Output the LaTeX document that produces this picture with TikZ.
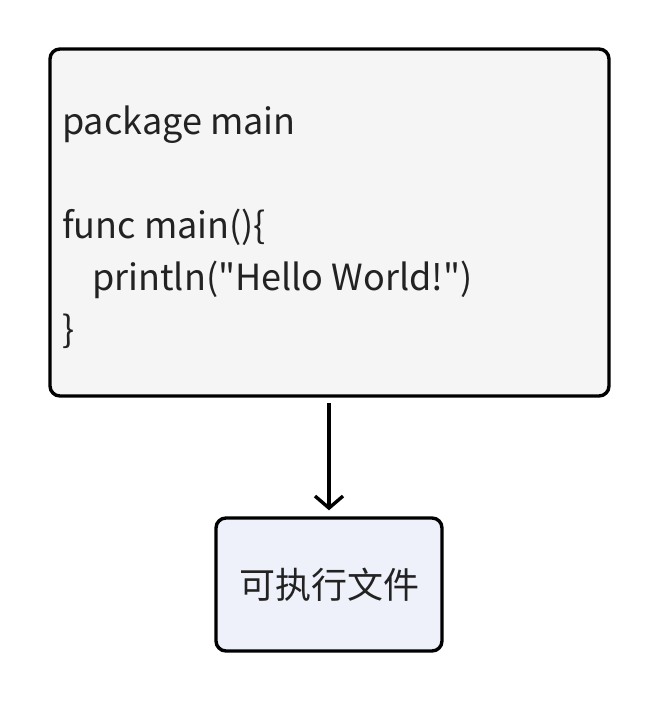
\documentclass[tikz,border=0pt]{standalone}
\usepackage{fontspec}
\newfontfamily\notofont{Noto Sans CJK SC}
\usetikzlibrary{arrows.meta}
\definecolor{codefill}{HTML}{F5F5F5}
\definecolor{exefill}{HTML}{EEF1FA}
\definecolor{ink}{HTML}{222222}
\tikzset{
  box/.style={draw=black, line width=3.4pt, rounded corners=10pt},
  flow/.style={draw=black, line width=3.4pt, -{Straight Barb[length=12pt,width=28pt,line width=3.4pt]}},
}
\begin{document}
\begin{tikzpicture}[x=1pt,y=1pt]
\useasboundingbox[fill=white] (0,0) rectangle (660,702);
\path[box, fill=codefill] (50,653) rectangle (609,306);
\coordinate (codebot) at (329,299);
\node[inner sep=0pt, anchor=north west, align=left, text=ink, font=\notofont\fontsize{36}{52}\selectfont] (code) at (62,596) {package main\\ \strut\\func main()\{\\\hspace*{30pt}println("Hello World!")\\\}};
\node[box, fill=exefill, minimum width=226pt, minimum height=133pt, text=ink, font=\notofont\fontsize{36}{40}\selectfont] (exe) at (329,117.5) {可执行文件};
\draw[flow] (codebot) -- ([yshift=6pt]exe.north);
\end{tikzpicture}
\end{document}
